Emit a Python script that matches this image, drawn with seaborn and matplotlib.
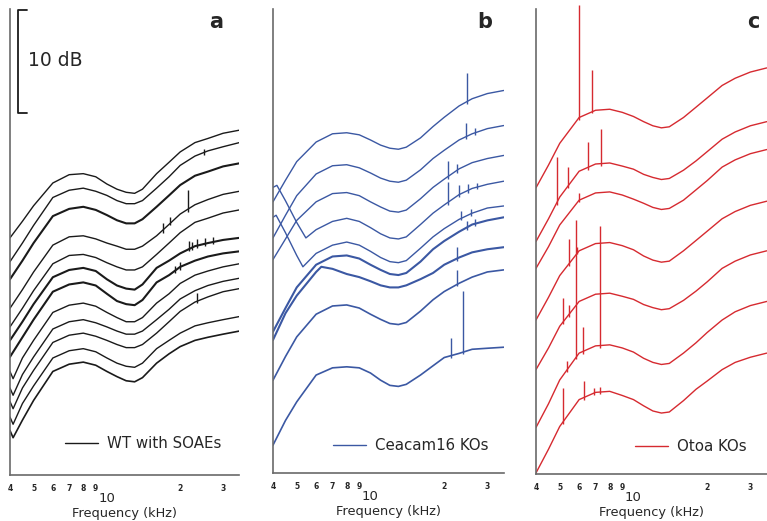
import numpy as np
import matplotlib
matplotlib.use("Agg")
import matplotlib.pyplot as plt
import seaborn as sns

# sample frequencies (kHz) shared by most traces
FREQ = [4, 4.5, 5, 6, 7, 8, 9, 10, 11, 12, 13, 14, 16, 18, 20, 23, 26, 30, 35]
FREQ_HOOK = [4, 4.12, 4.5, 5, 6, 7, 8, 9, 10, 11, 12, 13, 14, 16, 18, 20, 23, 26, 30, 35]
FREQ_B4 = [4, 4.15, 4.5, 5, 5.45, 6, 7, 8, 9, 10, 11, 12, 13, 14, 16, 18, 20, 23, 26, 30, 35]
FREQ_B5 = [4, 4.12, 4.5, 5, 5.3, 6, 7, 8, 9, 10, 11, 12, 13, 14, 16, 18, 20, 23, 26, 30, 35]
FREQ_B7 = [4, 4.5, 5, 6, 6.3, 7, 8, 9, 10, 11, 12, 13, 14, 16, 18, 20, 23, 26, 30, 35]

# ---- panel a: WT with SOAEs (level, dB, arbitrary offset) ----
WT_FREQS = [FREQ] * 7 + [FREQ_HOOK] * 5
WT_LEVELS = [
    [22.9, 24.5, 26.0, 28.2, 29.0, 29.1, 28.8, 28.1, 27.6, 27.3, 27.2, 27.6, 29.1, 30.2, 31.2, 32.1, 32.5, 33.0, 33.3],
    [20.6, 22.4, 24.1, 26.8, 27.5, 27.7, 27.4, 27.0, 26.5, 26.2, 26.2, 26.5, 27.7, 28.8, 29.9, 30.8, 31.3, 31.7, 32.1],
    [18.9, 20.7, 22.4, 25.0, 25.7, 25.9, 25.6, 25.1, 24.6, 24.3, 24.3, 24.7, 25.9, 27.0, 28.0, 28.9, 29.3, 29.8, 30.1],
    [16.1, 17.9, 19.6, 22.2, 23.0, 23.1, 22.8, 22.4, 22.1, 21.8, 21.8, 22.1, 23.1, 24.2, 25.2, 26.1, 26.6, 27.1, 27.4],
    [14.3, 16.1, 17.8, 20.4, 21.2, 21.3, 21.0, 20.5, 20.1, 19.8, 19.8, 20.1, 21.3, 22.4, 23.4, 24.4, 24.8, 25.3, 25.6],
    [13.0, 14.8, 16.5, 19.1, 19.8, 20.0, 19.7, 18.9, 18.3, 18.0, 17.9, 18.4, 20.0, 20.7, 21.4, 22.1, 22.4, 22.7, 22.9],
    [11.4, 13.3, 15.0, 17.7, 18.4, 18.6, 18.3, 17.5, 16.8, 16.5, 16.4, 16.9, 18.6, 19.3, 20.1, 20.7, 21.1, 21.4, 21.6],
    [10.0, 9.3, 11.3, 13.0, 15.7, 16.4, 16.6, 16.3, 15.7, 15.2, 14.8, 14.8, 15.2, 16.6, 17.5, 18.5, 19.3, 19.7, 20.1, 20.4],
    [8.4, 7.7, 9.7, 11.4, 14.1, 14.8, 15.0, 14.7, 14.3, 13.9, 13.6, 13.6, 13.9, 15.0, 16.0, 17.0, 17.8, 18.3, 18.7, 19.0],
    [7.1, 6.4, 8.4, 10.1, 12.8, 13.5, 13.7, 13.4, 13.0, 12.6, 12.3, 12.3, 12.6, 13.7, 14.8, 15.8, 16.7, 17.2, 17.7, 18.0],
    [5.6, 4.9, 6.9, 8.6, 11.3, 12.0, 12.2, 11.9, 11.3, 10.8, 10.5, 10.4, 10.8, 12.2, 13.0, 13.7, 14.4, 14.7, 15.0, 15.3],
    [4.3, 3.6, 5.3, 7.2, 10.0, 10.7, 10.9, 10.6, 10.0, 9.5, 9.1, 9.0, 9.4, 10.8, 11.7, 12.4, 13.0, 13.3, 13.6, 13.9],
]
WT_WIDTHS = [1.0, 1.0, 1.5, 1.0, 1.0, 1.5, 1.5, 1.0, 1.0, 1.0, 1.0, 1.2]
WT_SPIKE_FREQ = [25.0, 17.0, 18.2, 21.5, 21.8, 22.3, 23.4, 25.2, 27.3, 19.0, 20.0, 23.5]
WT_SPIKE_BASE = [30.9, 23.4, 24.1, 25.4, 21.6, 21.7, 21.9, 22.1, 22.3, 19.5, 19.8, 16.6]
WT_SPIKE_TOP = [31.5, 24.3, 24.9, 27.5, 22.6, 22.5, 22.8, 22.9, 23.0, 20.2, 20.6, 17.6]

# ---- panel b: Ceacam16 KOs ----
CEACAM_FREQS = [FREQ, FREQ, FREQ, FREQ_B4, FREQ_B5, FREQ, FREQ_B7, FREQ, FREQ]
CEACAM_LEVELS = [
    [26.3, 28.4, 30.2, 32.1, 32.9, 33.0, 32.8, 32.3, 31.8, 31.5, 31.4, 31.6, 32.5, 33.6, 34.5, 35.6, 36.3, 36.8, 37.1],
    [22.8, 25.0, 26.9, 29.0, 29.8, 29.9, 29.6, 29.1, 28.6, 28.3, 28.2, 28.4, 29.4, 30.5, 31.3, 32.3, 32.9, 33.4, 33.7],
    [20.7, 22.7, 24.5, 26.3, 27.1, 27.2, 26.9, 26.3, 25.8, 25.4, 25.3, 25.5, 26.6, 27.7, 28.5, 29.5, 30.1, 30.5, 30.8],
    [27.7, 27.9, 26.4, 24.3, 22.8, 23.6, 24.4, 24.7, 24.4, 23.8, 23.2, 22.8, 22.7, 22.9, 24.1, 25.2, 26.0, 27.0, 27.6, 28.0, 28.3],
    [24.8, 25.0, 23.3, 21.1, 20.0, 21.3, 22.1, 22.4, 22.1, 21.5, 20.9, 20.5, 20.4, 20.6, 21.8, 22.9, 23.7, 24.6, 25.2, 25.7, 25.9],
    [13.7, 16.0, 18.0, 20.2, 21.0, 21.1, 20.8, 20.2, 19.7, 19.3, 19.2, 19.4, 20.5, 21.7, 22.5, 23.4, 24.1, 24.5, 24.8],
    [12.9, 15.5, 17.2, 19.5, 20.0, 19.8, 19.3, 19.0, 18.6, 18.2, 18.0, 18.0, 18.2, 18.8, 19.4, 20.2, 20.9, 21.4, 21.7, 21.9],
    [9.0, 11.3, 13.2, 15.4, 16.2, 16.3, 16.0, 15.4, 14.9, 14.5, 14.4, 14.6, 15.7, 16.8, 17.6, 18.4, 19.0, 19.5, 19.7],
    [2.7, 5.1, 6.9, 9.5, 10.2, 10.3, 10.2, 9.7, 9.0, 8.5, 8.4, 8.6, 9.5, 10.4, 11.2, 11.6, 12.0, 12.1, 12.2],
]
CEACAM_WIDTHS = [1.0, 1.0, 1.0, 1.0, 1.0, 1.5, 1.5, 1.2, 1.2]
CEACAM_SPIKE_FREQ = [24.8, 24.6, 26.7, 20.7, 22.5, 20.7, 23.0, 24.9, 27.2, 23.4, 25.7, 24.8, 26.6, 22.6, 22.6, 21.3, 23.8]
CEACAM_SPIKE_BASE = [35.8, 32.4, 32.8, 28.5, 29.1, 26.0, 26.8, 27.2, 27.5, 24.5, 24.9, 23.6, 24.0, 20.6, 18.1, 11.2, 11.5]
CEACAM_SPIKE_TOP = [38.8, 33.9, 33.5, 30.3, 30.0, 28.2, 27.9, 28.0, 28.1, 25.4, 25.6, 24.4, 24.6, 21.9, 19.7, 13.1, 17.7]

# ---- panel c: Otoa KOs ----
OTOA_LEVELS = [
    [27.7, 29.9, 32.0, 34.5, 35.2, 35.3, 35.0, 34.6, 34.1, 33.7, 33.5, 33.6, 34.5, 35.5, 36.4, 37.6, 38.3, 38.9, 39.3],
    [22.5, 24.7, 26.8, 29.3, 30.0, 30.1, 29.8, 29.5, 29.0, 28.7, 28.5, 28.6, 29.4, 30.3, 31.2, 32.4, 33.1, 33.7, 34.1],
    [19.9, 22.0, 24.1, 26.5, 27.2, 27.3, 27.0, 26.6, 26.2, 25.8, 25.6, 25.7, 26.5, 27.5, 28.4, 29.7, 30.4, 31.0, 31.4],
    [14.9, 17.1, 19.2, 21.6, 22.3, 22.4, 22.1, 21.7, 21.1, 20.7, 20.5, 20.6, 21.6, 22.6, 23.5, 24.7, 25.4, 26.0, 26.4],
    [10.1, 12.2, 14.3, 16.7, 17.4, 17.5, 17.2, 16.9, 16.4, 16.1, 15.9, 16.0, 16.8, 17.7, 18.6, 19.9, 20.6, 21.2, 21.6],
    [4.5, 6.8, 9.1, 11.7, 12.4, 12.5, 12.2, 11.8, 11.2, 10.8, 10.6, 10.7, 11.7, 12.7, 13.7, 14.9, 15.7, 16.3, 16.7],
    [0.1, 2.4, 4.6, 7.2, 7.9, 8.0, 7.6, 7.2, 6.6, 6.1, 5.9, 6.0, 7.1, 8.2, 9.0, 10.1, 10.8, 11.3, 11.7],
]
OTOA_SPIKE_FREQ = [6.0, 6.8, 4.86, 5.41, 6.5, 7.4, 5.97, 5.46, 5.9, 5.15, 5.45, 5.35, 5.83, 6.2, 7.3, 5.15, 6.3, 6.9, 7.3]
OTOA_SPIKE_BASE = [34.3, 34.9, 26.0, 27.7, 29.4, 29.8, 26.3, 20.1, 21.3, 14.5, 15.2, 9.9, 11.1, 11.6, 12.2, 4.8, 7.2, 7.6, 7.7]
OTOA_SPIKE_TOP = [45.4, 39.1, 30.7, 29.7, 32.1, 33.4, 27.2, 22.7, 22.0, 17.0, 16.4, 10.9, 24.6, 14.2, 24.0, 8.3, 9.0, 8.3, 8.4]

MINOR_TICKS = [4, 5, 6, 7, 8, 9, 20, 30]
MINOR_LABELS = ["4", "5", "6", "7", "8", "9", "2", "3"]

BLACK = "#1a1a1a"
BLUE = "#3b58a3"
RED = "#d62a30"
SPINE = "#6a6a6a"

sns.set_style("white")
plt.rcParams["font.family"] = ["DejaVu Sans"]

fig = plt.figure(figsize=(7.67, 5.21), dpi=100)
ax_a = fig.add_axes([0.0130, 0.0883, 0.2991, 0.8944])
ax_b = fig.add_axes([0.3559, 0.0921, 0.3009, 0.8906])
ax_c = fig.add_axes([0.6988, 0.0902, 0.3009, 0.8925])


def style_axis(ax):
    ax.set_xscale("log")
    ax.set_xlim(4, 35)
    ax.set_ylim(0, 45)
    ax.set_yticks(np.arange(0, 46, 5))
    ax.tick_params(axis="y", labelleft=False, direction="out", length=7, width=1, color=SPINE)
    ax.set_xticks([10])
    ax.set_xticklabels(["10"], fontsize=9.5)
    ax.set_xticks(MINOR_TICKS, minor=True)
    ax.set_xticklabels(MINOR_LABELS, minor=True, fontsize=5.5, fontweight="bold")
    ax.tick_params(axis="x", which="major", direction="out", length=5.5, width=1, pad=7, color=SPINE)
    ax.tick_params(axis="x", which="minor", direction="out", length=3, width=1, pad=3.5, color=SPINE)
    ax.set_xlabel("Frequency (kHz)", fontsize=9.3, labelpad=1.5)
    ax.set_ylabel("")
    sns.despine(ax=ax)
    for side in ["left", "bottom"]:
        ax.spines[side].set_color(SPINE)
        ax.spines[side].set_linewidth(1.2)


def draw_panel(ax, freqs, levels, widths, color, label, spike_f, spike_b, spike_t):
    for i, (f, lv) in enumerate(zip(freqs, levels)):
        sns.lineplot(x=f, y=lv, ax=ax, color=color, lw=widths[i],
                     label=label if i == 0 else None, legend=False)
    ax.vlines(spike_f, spike_b, spike_t, color=color, lw=1.0, clip_on=False)


draw_panel(ax_a, WT_FREQS, WT_LEVELS, WT_WIDTHS, BLACK, "WT with SOAEs",
           WT_SPIKE_FREQ, WT_SPIKE_BASE, WT_SPIKE_TOP)
draw_panel(ax_b, CEACAM_FREQS, CEACAM_LEVELS, CEACAM_WIDTHS, BLUE, "Ceacam16 KOs",
           CEACAM_SPIKE_FREQ, CEACAM_SPIKE_BASE, CEACAM_SPIKE_TOP)
draw_panel(ax_c, [FREQ] * len(OTOA_LEVELS), OTOA_LEVELS, [1.0] * len(OTOA_LEVELS), RED, "Otoa KOs",
           OTOA_SPIKE_FREQ, OTOA_SPIKE_BASE, OTOA_SPIKE_TOP)

legend_pos = {ax_a: (0.24, 0.052), ax_b: (0.26, 0.043), ax_c: (0.43, 0.043)}
for ax, letter, lx in [(ax_a, "a", 0.898), (ax_b, "b", 0.918), (ax_c, "c", 0.94)]:
    style_axis(ax)
    ax.text(lx, 0.972, letter, transform=ax.transAxes, fontsize=15,
            fontweight="bold", ha="center", va="center")
    ax.legend(loc="lower left", bbox_to_anchor=legend_pos[ax], frameon=False, fontsize=10.8,
              handlelength=2.2, handletextpad=0.6, borderpad=0, borderaxespad=0)

# 10 dB scale bar in panel a
ax_a.plot([4.69, 4.32, 4.32, 4.69], [44.9, 44.9, 35.0, 35.0], color=BLACK, lw=1.3, clip_on=False)
ax_a.text(4.75, 40.0, "10 dB", fontsize=13.5, va="center", ha="left")

fig.savefig("out.png", dpi=100)
